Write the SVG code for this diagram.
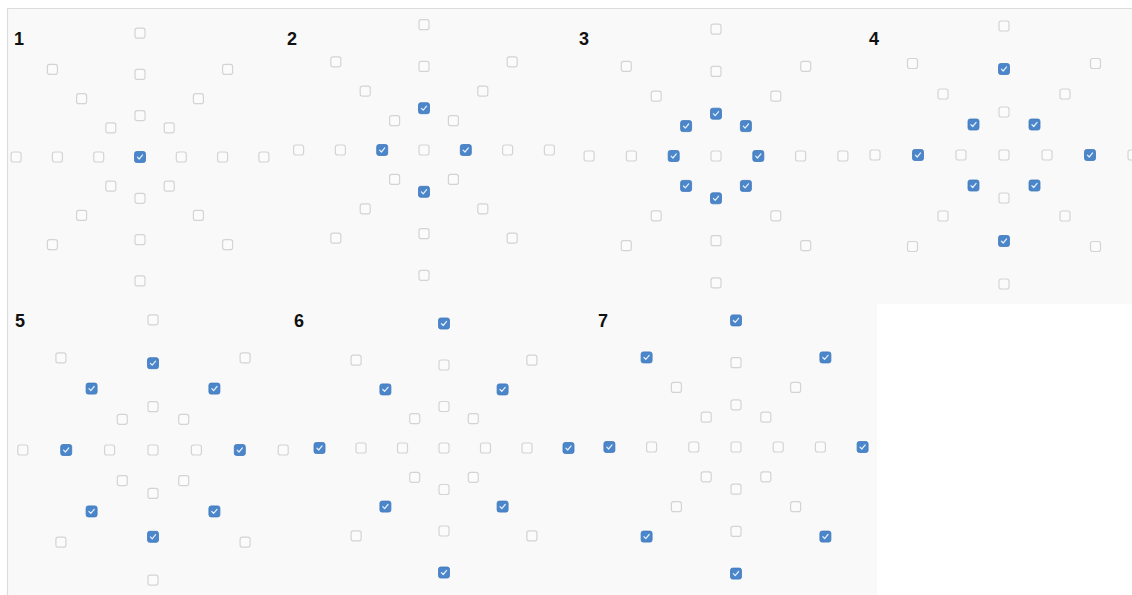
<svg xmlns="http://www.w3.org/2000/svg" xmlns:xlink="http://www.w3.org/1999/xlink" width="1132" height="595" viewBox="0 0 1132 595">
<style>
.lbl{font-family:"Liberation Sans",Arial,sans-serif;font-weight:bold;font-size:18px;fill:#111}
</style>
<defs>
<g id="u"><rect x="-5" y="-5" width="10" height="10" rx="2.2" fill="#fbfbfb" stroke="#d4d4d4" stroke-width="1.2"/></g>
<g id="c"><rect x="-5.5" y="-5.5" width="11" height="11" rx="2.2" fill="#4a86c9" stroke="#4079bd" stroke-width="0.8"/><path d="M-2.6 0.1 L-0.8 2 L2.6 -2.1" fill="none" stroke="#e8f0fb" stroke-width="1.2" stroke-linecap="round" stroke-linejoin="round"/></g>
</defs>
<rect x="0" y="0" width="1132" height="595" fill="#ffffff"/>
<path d="M7 8 H1132 V304 H877 V595 H7 Z" fill="#f9f9f9"/>
<path d="M7 8.5 H1132 M7.5 8 V595" fill="none" stroke="#dcdcdc" stroke-width="1.2"/>
<g id="connectors"/>

<g id="panel1">
<text class="lbl" x="14" y="45">1</text>
<use href="#c" x="140" y="157"/>
<use href="#u" x="140" y="115.7"/><use href="#u" x="140" y="198.3"/><use href="#u" x="98.7" y="157"/><use href="#u" x="181.3" y="157"/>
<use href="#u" x="140" y="74.4"/><use href="#u" x="140" y="239.6"/><use href="#u" x="57.4" y="157"/><use href="#u" x="222.6" y="157"/>
<use href="#u" x="140" y="33.1"/><use href="#u" x="140" y="280.9"/><use href="#u" x="16.1" y="157"/><use href="#u" x="263.9" y="157"/>
<use href="#u" x="110.8" y="127.8"/><use href="#u" x="169.2" y="127.8"/><use href="#u" x="110.8" y="186.2"/><use href="#u" x="169.2" y="186.2"/>
<use href="#u" x="81.6" y="98.6"/><use href="#u" x="198.4" y="98.6"/><use href="#u" x="81.6" y="215.4"/><use href="#u" x="198.4" y="215.4"/>
<use href="#u" x="52.4" y="69.4"/><use href="#u" x="227.6" y="69.4"/><use href="#u" x="52.4" y="244.6"/><use href="#u" x="227.6" y="244.6"/>
</g>

<g id="panel2">
<text class="lbl" x="287" y="45">2</text>
<use href="#u" x="424" y="150"/>
<use href="#c" x="424" y="108.2"/><use href="#c" x="424" y="191.8"/><use href="#c" x="382.2" y="150"/><use href="#c" x="465.8" y="150"/>
<use href="#u" x="424" y="66.4"/><use href="#u" x="424" y="233.6"/><use href="#u" x="340.4" y="150"/><use href="#u" x="507.6" y="150"/>
<use href="#u" x="424" y="24.6"/><use href="#u" x="424" y="275.4"/><use href="#u" x="298.6" y="150"/><use href="#u" x="549.4" y="150"/>
<use href="#u" x="394.6" y="120.6"/><use href="#u" x="453.4" y="120.6"/><use href="#u" x="394.6" y="179.4"/><use href="#u" x="453.4" y="179.4"/>
<use href="#u" x="365.2" y="91.2"/><use href="#u" x="482.8" y="91.2"/><use href="#u" x="365.2" y="208.8"/><use href="#u" x="482.8" y="208.8"/>
<use href="#u" x="335.8" y="61.8"/><use href="#u" x="512.2" y="61.8"/><use href="#u" x="335.8" y="238.2"/><use href="#u" x="512.2" y="238.2"/>
</g>

<g id="panel3">
<text class="lbl" x="579" y="45">3</text>
<use href="#u" x="716" y="156"/>
<use href="#c" x="716" y="113.7"/><use href="#c" x="716" y="198.3"/><use href="#c" x="673.7" y="156"/><use href="#c" x="758.3" y="156"/>
<use href="#u" x="716" y="71.4"/><use href="#u" x="716" y="240.6"/><use href="#u" x="631.4" y="156"/><use href="#u" x="800.6" y="156"/>
<use href="#u" x="716" y="29.1"/><use href="#u" x="716" y="282.9"/><use href="#u" x="589.1" y="156"/><use href="#u" x="842.9" y="156"/>
<use href="#c" x="686.1" y="126.1"/><use href="#c" x="745.9" y="126.1"/><use href="#c" x="686.1" y="185.9"/><use href="#c" x="745.9" y="185.9"/>
<use href="#u" x="656.2" y="96.2"/><use href="#u" x="775.8" y="96.2"/><use href="#u" x="656.2" y="215.8"/><use href="#u" x="775.8" y="215.8"/>
<use href="#u" x="626.3" y="66.3"/><use href="#u" x="805.7" y="66.3"/><use href="#u" x="626.3" y="245.7"/><use href="#u" x="805.7" y="245.7"/>
</g>

<g id="panel4">
<text class="lbl" x="869" y="45">4</text>
<use href="#u" x="1004" y="155"/>
<use href="#u" x="1004" y="112"/><use href="#u" x="1004" y="198"/><use href="#u" x="961" y="155"/><use href="#u" x="1047" y="155"/>
<use href="#c" x="1004" y="69"/><use href="#c" x="1004" y="241"/><use href="#c" x="918" y="155"/><use href="#c" x="1090" y="155"/>
<use href="#u" x="1004" y="26"/><use href="#u" x="1004" y="284"/><use href="#u" x="875" y="155"/><use href="#u" x="1133" y="155"/>
<use href="#c" x="973.5" y="124.5"/><use href="#c" x="1034.5" y="124.5"/><use href="#c" x="973.5" y="185.5"/><use href="#c" x="1034.5" y="185.5"/>
<use href="#u" x="943" y="94"/><use href="#u" x="1065" y="94"/><use href="#u" x="943" y="216"/><use href="#u" x="1065" y="216"/>
<use href="#u" x="912.5" y="63.5"/><use href="#u" x="1095.5" y="63.5"/><use href="#u" x="912.5" y="246.5"/><use href="#u" x="1095.5" y="246.5"/>
</g>

<g id="panel5">
<text class="lbl" x="15" y="327">5</text>
<use href="#u" x="153" y="450"/>
<use href="#u" x="153" y="406.6"/><use href="#u" x="153" y="493.4"/><use href="#u" x="109.6" y="450"/><use href="#u" x="196.4" y="450"/>
<use href="#c" x="153" y="363.2"/><use href="#c" x="153" y="536.8"/><use href="#c" x="66.2" y="450"/><use href="#c" x="239.8" y="450"/>
<use href="#u" x="153" y="319.8"/><use href="#u" x="153" y="580.2"/><use href="#u" x="22.8" y="450"/><use href="#u" x="283.2" y="450"/>
<use href="#u" x="122.3" y="419.3"/><use href="#u" x="183.7" y="419.3"/><use href="#u" x="122.3" y="480.7"/><use href="#u" x="183.7" y="480.7"/>
<use href="#c" x="91.6" y="388.6"/><use href="#c" x="214.4" y="388.6"/><use href="#c" x="91.6" y="511.4"/><use href="#c" x="214.4" y="511.4"/>
<use href="#u" x="60.9" y="357.9"/><use href="#u" x="245.1" y="357.9"/><use href="#u" x="60.9" y="542.1"/><use href="#u" x="245.1" y="542.1"/>
</g>

<g id="panel6">
<text class="lbl" x="294" y="327">6</text>
<use href="#u" x="444" y="448"/>
<use href="#u" x="444" y="406.5"/><use href="#u" x="444" y="489.5"/><use href="#u" x="402.5" y="448"/><use href="#u" x="485.5" y="448"/>
<use href="#u" x="444" y="365"/><use href="#u" x="444" y="531"/><use href="#u" x="361" y="448"/><use href="#u" x="527" y="448"/>
<use href="#c" x="444" y="323.5"/><use href="#c" x="444" y="572.5"/><use href="#c" x="319.5" y="448"/><use href="#c" x="568.5" y="448"/>
<use href="#u" x="414.7" y="418.7"/><use href="#u" x="473.3" y="418.7"/><use href="#u" x="414.7" y="477.3"/><use href="#u" x="473.3" y="477.3"/>
<use href="#c" x="385.4" y="389.4"/><use href="#c" x="502.6" y="389.4"/><use href="#c" x="385.4" y="506.6"/><use href="#c" x="502.6" y="506.6"/>
<use href="#u" x="356.1" y="360.1"/><use href="#u" x="531.9" y="360.1"/><use href="#u" x="356.1" y="535.9"/><use href="#u" x="531.9" y="535.9"/>
</g>

<g id="panel7">
<text class="lbl" x="598" y="327">7</text>
<use href="#u" x="736" y="447"/>
<use href="#u" x="736" y="404.8"/><use href="#u" x="736" y="489.2"/><use href="#u" x="693.8" y="447"/><use href="#u" x="778.2" y="447"/>
<use href="#u" x="736" y="362.6"/><use href="#u" x="736" y="531.4"/><use href="#u" x="651.6" y="447"/><use href="#u" x="820.4" y="447"/>
<use href="#c" x="736" y="320.4"/><use href="#c" x="736" y="573.6"/><use href="#c" x="609.4" y="447"/><use href="#c" x="862.6" y="447"/>
<use href="#u" x="706.2" y="417.2"/><use href="#u" x="765.8" y="417.2"/><use href="#u" x="706.2" y="476.8"/><use href="#u" x="765.8" y="476.8"/>
<use href="#u" x="676.4" y="387.4"/><use href="#u" x="795.6" y="387.4"/><use href="#u" x="676.4" y="506.6"/><use href="#u" x="795.6" y="506.6"/>
<use href="#c" x="646.6" y="357.4"/><use href="#c" x="825.4" y="357.4"/><use href="#c" x="646.6" y="536.6"/><use href="#c" x="825.4" y="536.6"/>
</g>
</svg>
